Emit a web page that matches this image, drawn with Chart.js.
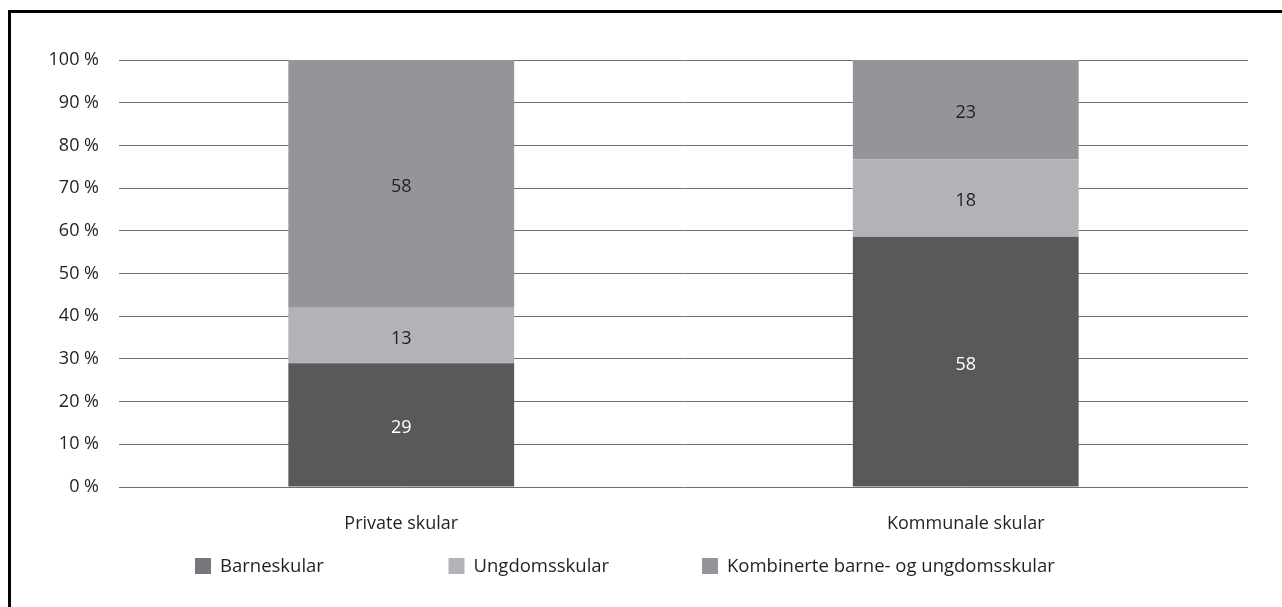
<!DOCTYPE html>
<html>
<head>
<meta charset="utf-8">
<script src="https://cdn.jsdelivr.net/npm/chart.js@4"></script>
<style>
  html, body { margin: 0; padding: 0; background: #fff; }
  #wrap { position: relative; width: 1282px; height: 607px; overflow: hidden; }
  #frame { position: absolute; left: 8px; top: 10px; width: 1290px; height: 610px;
           border-top: 3px solid #000; border-left: 3px solid #000; pointer-events: none; }
</style>
</head>
<body>
<div id="wrap">
  <canvas id="chart" width="1282" height="607"></canvas>
  <div id="frame"></div>
</div>
<script>
// data
const categories = ['Private skular', 'Kommunale skular'];
const seriesNames = ['Barneskular', 'Ungdomsskular', 'Kombinerte barne- og ungdomsskular'];
const barneskular = [29, 58];
const ungdomsskular = [13, 18];
const kombinerte = [58, 23];
const yTicks = [0, 10, 20, 30, 40, 50, 60, 70, 80, 90, 100];

const barColors = ['#58595b', '#b1b3b6', '#939598'];
const legendColors = ['#77787b', '#b1b3b6', '#939598'];
const labelColors = ['#ffffff', '#231f20', '#231f20'];
const textColor = '#231f20';
const fontFamily = '"Open Sans", "Noto Sans", sans-serif';

const raw = [barneskular, ungdomsskular, kombinerte];
// 100 % stacked: each column scaled to its own total
const totals = categories.map((c, i) => raw.reduce((s, arr) => s + arr[i], 0));

const datasets = raw.map((arr, k) => ({
    label: seriesNames[k],
    data: arr.map((v, i) => v / totals[i] * 100),
    rawValues: arr,
    backgroundColor: barColors[k],
    categoryPercentage: 1,
    barPercentage: 0.4
}));

// labels inside the segments
const segmentLabels = {
    id: 'segmentLabels',
    afterDatasetsDraw(chart) {
        const ctx = chart.ctx;
        ctx.save();
        ctx.font = '18px ' + fontFamily;
        ctx.textAlign = 'center';
        ctx.textBaseline = 'middle';
        chart.data.datasets.forEach((ds, k) => {
            chart.getDatasetMeta(k).data.forEach((bar, i) => {
                const mid = (bar.y + bar.base) / 2 + 3;
                ctx.fillStyle = labelColors[k];
                ctx.fillText(String(ds.rawValues[i]), bar.x, mid);
            });
        });
        ctx.restore();
    }
};

// legend in three fixed columns under the axis labels
const columnLegend = {
    id: 'columnLegend',
    afterDraw(chart) {
        const ctx = chart.ctx;
        const area = chart.chartArea;
        const x0 = area.left + 76;
        const step = 253.5;
        const y = area.bottom + 79;
        ctx.save();
        ctx.font = '18.5px ' + fontFamily;
        ctx.textAlign = 'left';
        ctx.textBaseline = 'middle';
        chart.data.datasets.forEach((ds, k) => {
            const x = x0 + k * step;
            ctx.fillStyle = legendColors[k];
            ctx.fillRect(x, y - 8, 16, 16);
            ctx.fillStyle = textColor;
            ctx.fillText(ds.label, x + 25, y + 1);
        });
        ctx.restore();
    }
};

new Chart(document.getElementById('chart'), {
    type: 'bar',
    data: { labels: categories, datasets: datasets },
    options: {
        responsive: false,
        animation: false,
        layout: { padding: { top: 60, right: 34, left: 0, bottom: 0 } },
        plugins: {
            legend: { display: false },
            tooltip: { enabled: false }
        },
        scales: {
            x: {
                stacked: true,
                grid: { display: false },
                border: { display: false },
                ticks: { color: textColor, font: { family: fontFamily, size: 18 }, padding: 18 },
                afterFit(scale) { scale.height = 120; }
            },
            y: {
                stacked: true,
                min: 0,
                max: 100,
                afterBuildTicks(scale) { scale.ticks = yTicks.map(v => ({ value: v })); },
                grid: { color: '#6d6e71', lineWidth: 1, drawTicks: false },
                border: { display: false },
                ticks: {
                    color: textColor,
                    font: { family: fontFamily, size: 18 },
                    padding: 20,
                    callback: v => v + ' %'
                },
                afterFit(scale) { scale.width = 119; }
            }
        }
    },
    plugins: [segmentLabels, columnLegend]
});
</script>
</body>
</html>
